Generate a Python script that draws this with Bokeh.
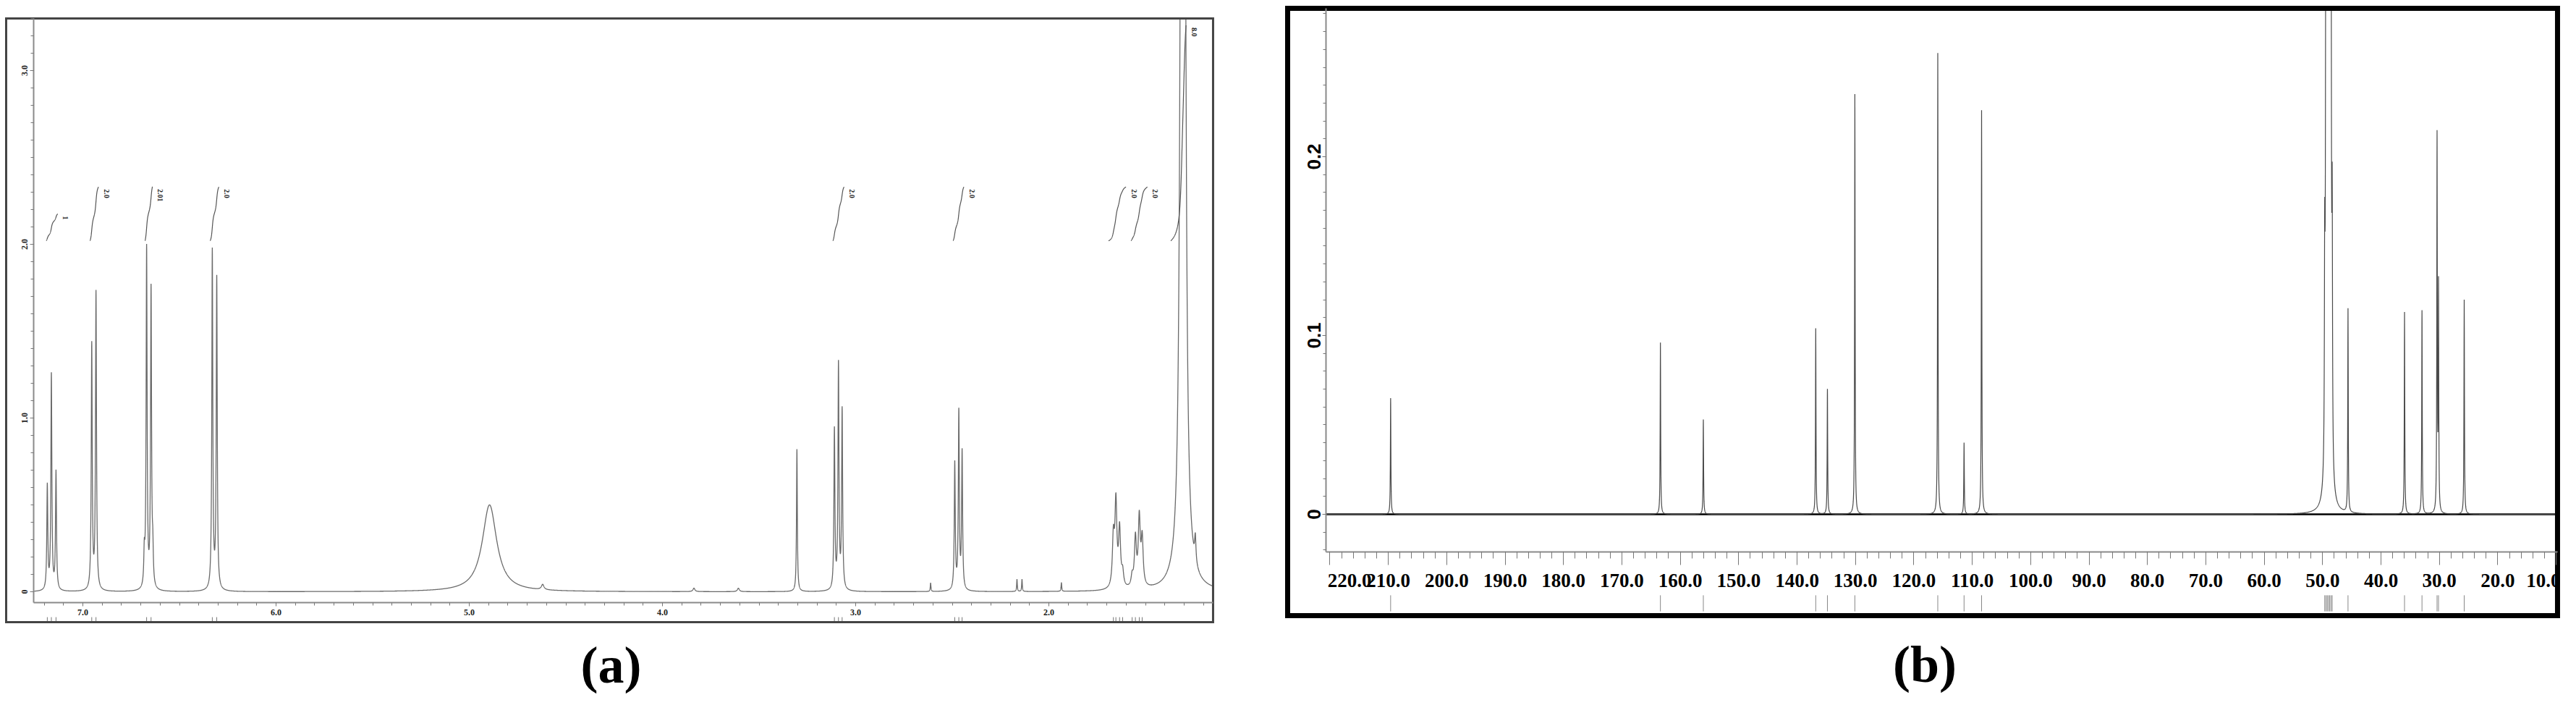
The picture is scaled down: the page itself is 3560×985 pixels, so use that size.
import numpy as np
from bokeh.plotting import figure
from bokeh.models import Range1d, LinearAxis, FixedTicker, PrintfTickFormatter
from bokeh.layouts import row
from bokeh.embed import file_html
from bokeh.resources import INLINE
from bokeh.core.properties import value

# ---------------- (a) 1H NMR data ----------------
h_shift = [7.184, 7.163, 7.139, 6.954, 6.932, 6.682, 6.670, 6.647, 6.638, 6.330, 6.307,
           4.895, 4.620, 3.837, 3.607, 3.304, 3.110, 3.089, 3.070, 2.612, 2.487, 2.466, 2.449,
           2.165, 2.139, 1.935, 1.666, 1.653, 1.634, 1.618, 1.569, 1.552, 1.532, 1.517,
           1.312, 1.300, 1.242]
h_height = [0.60, 1.24, 0.68, 1.41, 1.71, 0.18, 1.96, 1.72, 0.18, 1.95, 1.79,
            0.50, 0.03, 0.02, 0.02, 0.82, 0.92, 1.29, 1.03, 0.05, 0.73, 1.02, 0.79,
            0.07, 0.07, 0.05, 0.28, 0.48, 0.33, 0.08, 0.06, 0.28, 0.39, 0.27,
            6.0, 6.0, 0.15]
h_hwhm = [0.003, 0.003, 0.003, 0.003, 0.003, 0.003, 0.003, 0.003, 0.003, 0.003, 0.003,
          0.045, 0.008, 0.006, 0.006, 0.0025, 0.003, 0.003, 0.003, 0.002, 0.003, 0.003, 0.003,
          0.002, 0.002, 0.002, 0.006, 0.006, 0.006, 0.006, 0.006, 0.006, 0.006, 0.006,
          0.008, 0.008, 0.004]
h_int_start = [7.190, 6.963, 6.678, 6.341, 3.118, 2.496, 1.691, 1.575, 1.369]
h_int_end = [7.130, 6.919, 6.640, 6.296, 3.060, 2.440, 1.601, 1.490, 1.290]
h_int_value = [1.0, 2.0, 2.01, 2.0, 2.0, 2.0, 2.0, 2.0, 8.0]
h_int_label = ["1", "2.0", "2.01", "2.0", "2.0", "2.0", "2.0", "2.0", "8.0"]
h_marks = [7.184, 7.163, 7.139, 6.954, 6.932, 6.670, 6.647, 6.330, 6.307,
           3.110, 3.089, 3.070, 2.487, 2.466, 2.449,
           1.666, 1.653, 1.634, 1.618, 1.569, 1.552, 1.532, 1.517]
h_xticks = [7.0, 6.0, 5.0, 4.0, 3.0, 2.0]
h_yticks = [0.0, 1.0, 2.0, 3.0]

# ---------------- (b) 13C NMR data ----------------
c_shift = [209.6, 163.4, 156.05, 136.8, 134.8, 130.1, 115.9, 111.4, 108.4,
           49.64, 49.43, 49.21, 49.00, 48.79, 48.57, 48.36,
           45.65, 35.97, 32.98, 30.40, 30.15, 25.75]
c_height = [0.065, 0.096, 0.053, 0.104, 0.070, 0.235, 0.258, 0.040, 0.226,
            0.11, 0.45, 0.90, 1.00, 0.90, 0.45, 0.13,
            0.114, 0.113, 0.114, 0.210, 0.125, 0.120]
c_hwhm = [0.05] * 9 + [0.06] * 7 + [0.05] * 6
c_xticks = [220.0, 210.0, 200.0, 190.0, 180.0, 170.0, 160.0, 150.0, 140.0, 130.0, 120.0,
            110.0, 100.0, 90.0, 80.0, 70.0, 60.0, 50.0, 40.0, 30.0, 20.0, 10.0]
c_yticks = [0.0, 0.1, 0.2]

panel_captions = ["(a)", "(b)"]


def lorentz_sum(grid, shifts, heights, widths):
    s = np.zeros_like(grid)
    for c, h, w in zip(shifts, heights, widths):
        s += h / (1.0 + ((grid - c) / w) ** 2)
    return s


CAP_FONT = "72px"

# ---------------- panel (a) ----------------
A_W, A_H = 1712, 969
AX0, AX1 = 7.427, 1.015          # canvas x range (ppm, reversed)
AY0, AY1 = -0.633, 3.404         # canvas y range
BOX_A = dict(left=7.397, right=1.150, bottom=-0.175, top=3.30)
A_YAXIS_AT = 7.253
A_XAXIS_AT = -0.0625
A_CAP_Y = -0.421

pa = figure(width=A_W, height=A_H, x_range=Range1d(AX0, AX1), y_range=Range1d(AY0, AY1),
            x_axis_type=None, y_axis_type=None, output_backend="svg", toolbar_location=None,
            min_border=0)
pa.outline_line_color = None
pa.background_fill_color = "white"
pa.border_fill_color = "white"

ga = np.unique(np.concatenate([np.arange(BOX_A["right"], A_YAXIS_AT, 0.0004), np.array(h_shift)]))
sa = lorentz_sum(ga, h_shift, h_height, h_hwhm)
pa.line(ga, np.minimum(sa, BOX_A["top"]), line_color="#6a6a6a", line_width=1.3)

# integral curves: running integral of a broadened spectrum over each region
K_PER_H = 0.155
INT_BASE = 2.02
broad_w = [max(w, 0.005) for w in h_hwhm]
ixs, iys = [], []
for s0, s1, v in zip(h_int_start, h_int_end, h_int_value):
    xx = np.linspace(s0, s1, 200)
    yy = lorentz_sum(xx, h_shift, h_height, broad_w)
    cum = np.cumsum(yy)
    cum = (cum - cum[0]) / (cum[-1] - cum[0])
    ixs.append(list(xx))
    iys.append(list(INT_BASE + v * K_PER_H * cum))
pa.multi_line(ixs, iys, line_color="#555555", line_width=1.2)
pa.text(x=h_int_end, y=[INT_BASE + v * K_PER_H for v in h_int_value], text=h_int_label,
        angle=-np.pi / 2, text_align="left", text_baseline="middle", x_offset=11, y_offset=3,
        text_font=value("Liberation Serif"), text_font_style="bold", text_font_size="10px",
        text_color="#222222")
pa.segment(x0=h_marks, y0=-0.146, x1=h_marks, y1=BOX_A["bottom"], line_color="#777777", line_width=1)

axa = LinearAxis(fixed_location=A_XAXIS_AT, bounds=(BOX_A["right"], A_YAXIS_AT),
                 ticker=FixedTicker(ticks=h_xticks, minor_ticks=list(np.round(np.arange(1.2, 7.26, 0.1), 2))),
                 formatter=PrintfTickFormatter(format="%.1f"))
aya = LinearAxis(fixed_location=A_YAXIS_AT, bounds=(A_XAXIS_AT, BOX_A["top"]),
                 ticker=FixedTicker(ticks=h_yticks, minor_ticks=list(np.round(np.arange(0.0, 3.31, 0.1), 2))),
                 formatter=PrintfTickFormatter(format="%.1f"), major_label_overrides={0: "0"},
                 major_label_orientation="vertical")
for ax in (axa, aya):
    ax.axis_line_color = "#8a8a8a"
    ax.axis_line_width = 2
    ax.major_tick_line_color = "#777777"
    ax.minor_tick_line_color = "#777777"
    ax.major_tick_in = 0
    ax.major_tick_out = 5
    ax.minor_tick_in = 0
    ax.minor_tick_out = 4
    ax.major_label_text_font = "Liberation Serif"
    ax.major_label_text_font_style = "bold"
    ax.major_label_text_font_size = "12px"
    ax.major_label_text_color = "#222222"
    ax.major_label_standoff = 4
pa.add_layout(axa, "below")
pa.add_layout(aya, "left")
pa.quad(left=[BOX_A["left"]], right=[BOX_A["right"]], bottom=[BOX_A["bottom"]], top=[BOX_A["top"]],
        fill_color=None, line_color="#444444", line_width=3, line_join="miter")
pa.text(x=[(BOX_A["left"] + BOX_A["right"]) / 2], y=[A_CAP_Y], text=[panel_captions[0]],
        x_offset=2, text_align="center", text_baseline="middle",
        text_font=value("Liberation Serif"), text_font_style="bold", text_font_size=CAP_FONT,
        text_color="black")

# ---------------- panel (b) ----------------
B_W, B_H = 1826, 969
BX0, BX1 = 235.54, 9.27          # canvas x range (ppm, reversed)
BY0, BY1 = -0.10486, 0.28745     # canvas y range
BOX_B = dict(left=227.24, right=9.77, bottom=-0.0567, top=0.283)
B_YAXIS_AT = 220.65
B_XAXIS_AT = -0.0211
B_CAP_Y = -0.0842

pb = figure(width=B_W, height=B_H, x_range=Range1d(BX0, BX1), y_range=Range1d(BY0, BY1),
            x_axis_type=None, y_axis_type=None, output_backend="svg", toolbar_location=None,
            min_border=0)
pb.outline_line_color = None
pb.background_fill_color = "white"
pb.border_fill_color = "white"

gb = np.linspace(B_YAXIS_AT, BOX_B["right"], 9000)
extra = np.concatenate([np.array(c_shift) + d for d in (-0.3, -0.1, -0.03, 0.0, 0.03, 0.1, 0.3)])
gb = np.unique(np.concatenate([gb, extra]))
sb = lorentz_sum(gb, c_shift, c_height, c_hwhm)
pb.line(x=[B_YAXIS_AT, BOX_B["right"]], y=[0, 0], line_color="black", line_width=2.5)
pb.line(gb, np.minimum(sb, BOX_B["top"]), line_color="#4a4a4a", line_width=1.2)
pb.segment(x0=c_shift, y0=-0.0453, x1=c_shift, y1=-0.0543, line_color="#888888", line_width=1)

B_LABEL_FONT_SIZE = "27px"
axb = LinearAxis(fixed_location=B_XAXIS_AT, bounds=(BOX_B["right"], B_YAXIS_AT),
                 ticker=FixedTicker(ticks=c_xticks, minor_ticks=list(np.arange(10, 221, 2))),
                 formatter=PrintfTickFormatter(format="%.1f"),
                 major_label_overrides={c_xticks[0]: ""})
axb.major_tick_out = 18
axb.minor_tick_out = 9
axb.major_label_text_font = "Liberation Serif"
axb.major_label_text_font_size = B_LABEL_FONT_SIZE
axb.major_label_standoff = 12
# first label sits against the vertical axis (crowding the next label), as in the original print
pb.text(x=[B_YAXIS_AT], y=[B_XAXIS_AT], text=["%.1f" % c_xticks[0]], text_align="left",
        text_baseline="top", x_offset=2, y_offset=18 + 12,
        text_font=value("Liberation Serif"), text_font_style="bold",
        text_font_size=B_LABEL_FONT_SIZE, text_color="black")
ayb = LinearAxis(fixed_location=B_YAXIS_AT, bounds=(B_XAXIS_AT, BOX_B["top"]),
                 ticker=FixedTicker(ticks=c_yticks, minor_ticks=list(np.round(np.arange(-0.02, 0.281, 0.01), 3))),
                 formatter=PrintfTickFormatter(format="%.1f"), major_label_overrides={0: "0"},
                 major_label_orientation="vertical")
ayb.major_tick_out = 5
ayb.minor_tick_out = 4
ayb.major_label_text_font = "Liberation Sans"
ayb.major_label_text_font_size = "26px"
ayb.major_label_standoff = 3
for ax in (axb, ayb):
    ax.axis_line_color = "#8a8a8a"
    ax.axis_line_width = 2
    ax.major_tick_line_color = "#777777"
    ax.minor_tick_line_color = "#777777"
    ax.major_tick_in = 0
    ax.minor_tick_in = 0
    ax.major_label_text_font_style = "bold"
    ax.major_label_text_color = "black"
pb.add_layout(axb, "below")
pb.add_layout(ayb, "left")
pb.quad(left=[BOX_B["left"]], right=[BOX_B["right"]], bottom=[BOX_B["bottom"]], top=[BOX_B["top"]],
        fill_color=None, line_color="black", line_width=7, line_join="miter")
pb.text(x=[(BOX_B["left"] + BOX_B["right"]) / 2], y=[B_CAP_Y], text=[panel_captions[1]],
        x_offset=3, text_align="center", text_baseline="middle",
        text_font=value("Liberation Serif"), text_font_style="bold", text_font_size=CAP_FONT,
        text_color="black")

layout = row(pa, pb)
open("out.html", "w").write(file_html(layout, INLINE))
